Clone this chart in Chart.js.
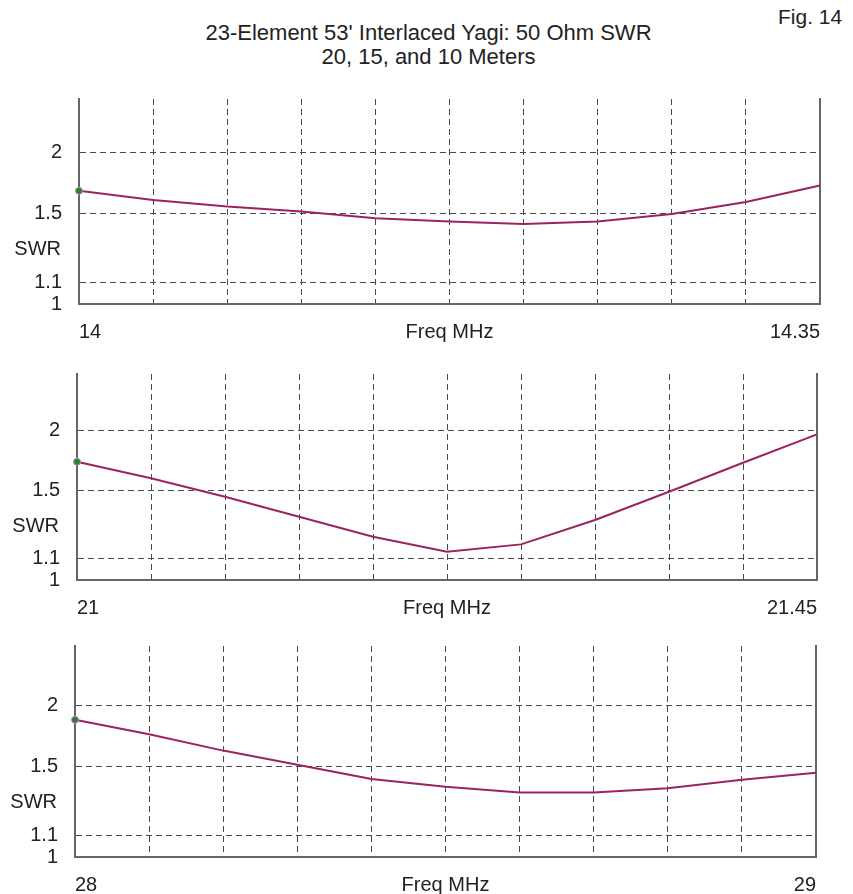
<!DOCTYPE html>
<html>
<head>
<meta charset="utf-8">
<script src="https://cdn.jsdelivr.net/npm/chart.js@4/dist/chart.umd.min.js"></script>
<style>
  html, body { margin: 0; padding: 0; background: #fff; overflow: hidden; }
  body { position: relative; width: 853px; height: 894px; font-family: "Liberation Sans", Arial, sans-serif; color: #222; }
  .title { position: absolute; left: 2px; top: 21px; width: 853px; text-align: center; font-size: 22px; line-height: 24px; }
  .fig { position: absolute; left: 778px; top: 5px; font-size: 21px; }
  canvas { position: absolute; left: 0; }
</style>
</head>
<body>
<div class="title">23-Element 53' Interlaced Yagi: 50 Ohm SWR<br>20, 15, and 10 Meters</div>
<div class="fig">Fig. 14</div>
<canvas id="c20" width="853" height="259" style="top:85px"></canvas>
<canvas id="c15" width="853" height="260" style="top:360px"></canvas>
<canvas id="c10" width="853" height="265" style="top:632px"></canvas>
<script>
// sweep frequencies (MHz) and SWR for each band
const freq20 = [14, 14.035, 14.07, 14.105, 14.14, 14.175, 14.21, 14.245, 14.28, 14.315, 14.35];
const swr20  = [1.665, 1.596, 1.547, 1.512, 1.467, 1.444, 1.429, 1.444, 1.496, 1.581, 1.707];

const freq15 = [21, 21.045, 21.09, 21.135, 21.18, 21.225, 21.27, 21.315, 21.36, 21.405, 21.45];
const swr15  = [1.713, 1.584, 1.454, 1.327, 1.213, 1.134, 1.172, 1.308, 1.488, 1.705, 1.958];

const freq10 = [28, 28.1, 28.2, 28.3, 28.4, 28.5, 28.6, 28.7, 28.8, 28.9, 29];
const swr10  = [1.867, 1.743, 1.613, 1.510, 1.416, 1.367, 1.331, 1.331, 1.357, 1.410, 1.457];

const swrTicks = [1, 1.1, 1.5, 2];

const FONT = '"Liberation Sans", Arial, sans-serif';
const GRID = '#4a4a4a';
const AXIS = '#666';

// SWR axis spaced by reflection coefficient
const rho = s => (s - 1) / (s + 1);
class SwrScale extends Chart.LinearScale {
  getPixelForValue(value) {
    const a = rho(this.min), b = rho(this.max);
    return this.getPixelForDecimal((rho(value) - a) / (b - a));
  }
  getValueForPixel(pixel) {
    const a = rho(this.min), b = rho(this.max);
    const r = a + this.getDecimalForPixel(pixel) * (b - a);
    return (1 + r) / (1 - r);
  }
}
SwrScale.id = 'swr';
SwrScale.defaults = {};
Chart.register(SwrScale);

// horizontal "SWR" caption left of the axis
const swrLabel = {
  id: 'swrLabel',
  afterDraw(chart) {
    const {ctx, chartArea, scales} = chart;
    const y = scales.y;
    const yy = (y.getPixelForValue(1.1) + y.getPixelForValue(1.5)) / 2 + 2;
    ctx.save();
    ctx.font = '20px ' + FONT;
    ctx.fillStyle = '#222';
    ctx.textAlign = 'right';
    ctx.textBaseline = 'middle';
    ctx.fillText('SWR', chartArea.left - 18, yy);
    ctx.restore();
  }
};

function noPad(s) {
  s.paddingTop = 0;
  s.paddingBottom = 0;
  s.paddingLeft = 0;
  s.paddingRight = 0;
}

function panel(id, freq, swr, box) {
  const canvas = document.getElementById(id);
  const top = parseInt(canvas.style.top);
  return new Chart(canvas, {
    type: 'line',
    data: {
      datasets: [{
        data: freq.map((f, i) => ({x: f, y: swr[i]})),
        borderColor: '#9b2360',
        borderWidth: 2,
        tension: 0,
        clip: false,
        pointRadius: ctx => ctx.dataIndex === 0 ? 3.5 : 0,
        pointBackgroundColor: '#1f8a1f',
        pointBorderColor: '#d27ad2',
        pointBorderWidth: 1
      }]
    },
    options: {
      responsive: false,
      animation: false,
      devicePixelRatio: 1,
      layout: { padding: { top: box.top - top, left: 0, right: 853 - box.right - 1, bottom: 0 } },
      plugins: { legend: { display: false }, tooltip: { enabled: false } },
      scales: {
        x: {
          type: 'linear',
          min: freq[0],
          max: freq[freq.length - 1],
          afterBuildTicks: s => { s.ticks = freq.map(v => ({value: v})); },
          afterFit: s => { s.height = 40; noPad(s); },
          grid: { color: GRID, lineWidth: 1, drawTicks: false },
          border: { color: AXIS, width: 2, dash: [6, 4] },
          ticks: {
            autoSkip: false, maxRotation: 0, align: 'inner', padding: 16,
            color: '#222', font: { family: FONT, size: 20 },
            callback: (v, i, t) => (i === 0 || i === t.length - 1) ? String(v) : ''
          },
          title: { display: true, text: 'Freq MHz', color: '#222', font: { family: FONT, size: 20 }, padding: 0 }
        },
        y: {
          type: 'swr',
          min: 1,
          max: box.yMax,
          bounds: 'data',
          afterBuildTicks: s => { s.ticks = swrTicks.map(v => ({value: v})); },
          afterFit: s => { s.width = box.left; noPad(s); },
          grid: { color: GRID, lineWidth: 1, drawTicks: false },
          border: { color: AXIS, width: 2, dash: [6, 4] },
          ticks: { padding: 17, color: '#222', font: { family: FONT, size: 20 }, callback: v => String(v) }
        },
        y2: {
          type: 'linear',
          position: 'right',
          min: 0, max: 1,
          afterFit: s => { s.width = 1; noPad(s); },
          grid: { display: false, drawTicks: false },
          border: { display: true, color: AXIS, width: 2 },
          ticks: { display: false }
        }
      }
    },
    plugins: [swrLabel]
  });
}

const charts = [
  panel('c20', freq20, swr20, { left: 79, right: 820, top: 99, yMax: 2.65 }),
  panel('c15', freq15, swr15, { left: 77, right: 817, top: 374, yMax: 2.69 }),
  panel('c10', freq10, swr10, { left: 75, right: 816, top: 646, yMax: 2.74 })
];
</script>
</body>
</html>
